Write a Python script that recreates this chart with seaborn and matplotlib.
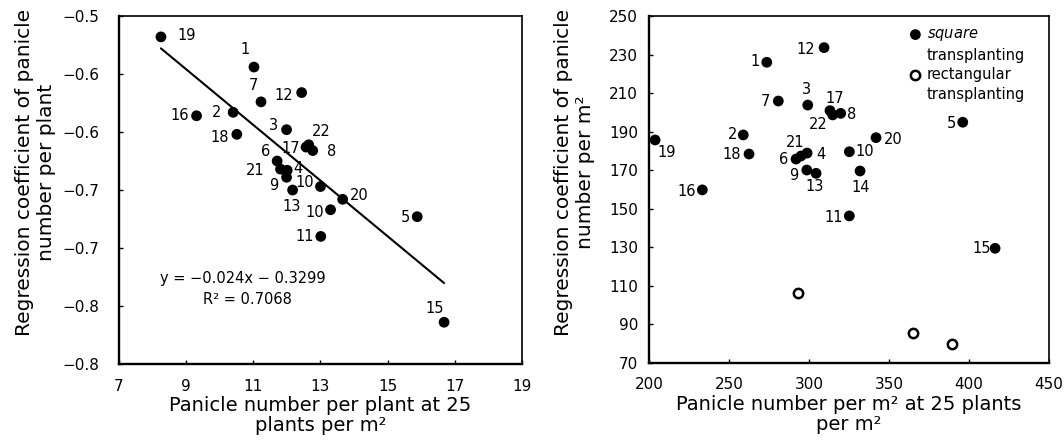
import numpy as np
import pandas as pd
import seaborn as sns
import matplotlib.pyplot as plt

# left panel: panicle number per plant vs regression coefficient
left_ids = ["19", "1", "7", "12", "16", "2", "18", "3", "22", "17", "8",
            "6", "21", "4", "9", "13", "10", "20", "10", "11", "5", "15"]
left_x = [8.25, 11.02, 11.23, 12.44, 9.31, 10.40, 10.51, 11.99, 12.65, 12.57, 12.77,
          11.71, 11.81, 12.01, 11.99, 12.17, 13.00, 13.66, 13.30, 13.01, 15.88, 16.68]
left_y = [-0.518, -0.544, -0.574, -0.566, -0.586, -0.583, -0.602, -0.598, -0.611, -0.613, -0.616,
          -0.625, -0.632, -0.633, -0.639, -0.650, -0.647, -0.658, -0.667, -0.690, -0.673, -0.764]
fit_slope = -0.024
fit_intercept = -0.3299
fit_r2 = 0.7068
left_yticks = [-0.50, -0.55, -0.60, -0.65, -0.70, -0.75, -0.80]
left_yticklabels = ["\u22120.5", "\u22120.6", "\u22120.6", "\u22120.7", "\u22120.7", "\u22120.8", "\u22120.8"]
left_xticks = [7, 9, 11, 13, 15, 17, 19]

# right panel: panicle number per m2
sq_ids = ["12", "1", "7", "3", "17", "22", "8", "2", "19", "18", "6",
          "21", "4", "9", "13", "16", "11", "5", "20", "10", "14", "15"]
sq_x = [309.4, 273.6, 280.8, 299.2, 313.1, 314.8, 319.8, 258.9, 203.8, 262.5, 291.9,
        295.0, 298.8, 298.6, 304.4, 233.3, 325.2, 396.1, 341.9, 325.2, 331.9, 416.3]
sq_y = [233.6, 226.0, 205.9, 203.8, 200.9, 198.7, 199.5, 188.3, 185.7, 178.4, 175.8,
        177.4, 178.9, 170.1, 168.4, 159.8, 146.3, 194.9, 186.9, 179.6, 169.6, 129.5]
rect_x = [292.9, 365.2, 389.6]
rect_y = [106.2, 85.7, 79.9]
right_yticks = [70, 90, 110, 130, 150, 170, 190, 210, 230, 250]
right_xticks = [200, 250, 300, 350, 400, 450]

# label offsets in pixels (dx right, dy down)
left_offsets = [(26, -1), (-9, -18), (-8, -16), (-18, 3), (-17, 0), (-17, 0), (-17, 3),
                (-13, -4), (13, -13), (-15, 1), (19, 1), (-12, -10), (-25, 1), (11, -2),
                (-13, 8), (-1, 16), (-16, -4), (17, -4), (-16, 3), (-16, 0), (-12, 1), (-9, -14)]
right_offsets = [(-18, 2), (-12, -1), (-13, 0), (-1, -16), (5, -12), (-14, 10), (11, 1),
                 (-11, 0), (12, 13), (-17, 0), (-12, 0), (-6, -13), (14, 1), (-13, 5),
                 (-1, 13), (-16, 2), (-16, 2), (-11, 1), (17, 2), (15, 0), (1, 16), (-13, 0)]

left_df = pd.DataFrame({"x": left_x, "y": left_y, "id": left_ids})
sq_df = pd.DataFrame({"x": sq_x, "y": sq_y, "id": sq_ids})
rect_df = pd.DataFrame({"x": rect_x, "y": rect_y})

sns.set_theme(style="white")
plt.rcParams["font.family"] = ["DejaVu Sans"]
plt.rcParams["mathtext.fontset"] = "custom"
plt.rcParams["mathtext.it"] = "DejaVu Sans:italic"
plt.rcParams["mathtext.rm"] = "DejaVu Sans"
plt.rcParams["text.color"] = "black"
plt.rcParams["axes.labelcolor"] = "black"

fig = plt.figure(figsize=(10.64, 4.40), dpi=100)
ax1 = fig.add_axes([0.1118, 0.1727, 0.3788, 0.7909])
ax2 = fig.add_axes([0.6100, 0.1750, 0.3759, 0.7886])

tick_fs = 11
pt_fs = 10.5
lab_fs = 14.5
xlab_fs = 14


def style_axes(ax, ypad, xpad):
    for side, sp in ax.spines.items():
        sp.set_color("black")
        sp.set_linewidth(1.7 if side in ("left", "bottom") else 1.2)
    ax.tick_params(axis="y", direction="in", length=3, width=1, pad=ypad,
                   labelsize=tick_fs, colors="black", left=True)
    ax.tick_params(axis="x", direction="in", length=3, width=1, pad=xpad,
                   labelsize=tick_fs, colors="black", bottom=True)
    ax.grid(False)


def put_labels(ax, df, offsets):
    for (px, py, lab), (dx, dy) in zip(df[["x", "y", "id"]].values, offsets):
        ax.annotate(lab, (px, py), xytext=(dx, -dy), textcoords="offset pixels",
                    ha="center", va="center", fontsize=pt_fs, color="black")


# ---- left panel
sns.scatterplot(data=left_df, x="x", y="y", ax=ax1, color="black", s=60,
                edgecolor="none", legend=False)
fit_x = np.array([min(left_x), max(left_x)])
sns.lineplot(x=fit_x, y=fit_slope * fit_x + fit_intercept, ax=ax1,
             color="black", linewidth=1.5)
put_labels(ax1, left_df, left_offsets)
ax1.text(0.308, 0.247, f"y = \u2212{abs(fit_slope):.3f}x \u2212 {abs(fit_intercept):.4f}",
         transform=ax1.transAxes, ha="center", va="center", fontsize=pt_fs)
ax1.text(0.318, 0.184, f"R\u00b2 = {fit_r2:.4f}", transform=ax1.transAxes,
         ha="center", va="center", fontsize=pt_fs)
ax1.set_xlim(7, 19)
ax1.set_ylim(-0.80, -0.50)
ax1.set_xticks(left_xticks)
ax1.set_yticks(left_yticks)
ax1.set_yticklabels(left_yticklabels)
style_axes(ax1, 14, 11)
ax1.set_xlabel("Panicle number per plant at 25\nplants per m\u00b2", fontsize=xlab_fs,
               linespacing=1.05)
ax1.set_ylabel("Regression coefficient of panicle\nnumber per plant", fontsize=lab_fs,
               linespacing=1.2)
ax1.xaxis.set_label_coords(0.5, -0.093)
ax1.yaxis.set_label_coords(-0.155, 0.55)

# ---- right panel
sns.scatterplot(data=sq_df, x="x", y="y", ax=ax2, color="black", s=60,
                edgecolor="none", label="$\\mathit{square}$")
ax2.scatter([], [], s=0, label="transplanting")
sns.scatterplot(data=rect_df, x="x", y="y", ax=ax2, facecolor="white", s=45,
                edgecolor="black", linewidth=1.8, label="rectangular")
ax2.scatter([], [], s=0, label="transplanting")
put_labels(ax2, sq_df, right_offsets)
ax2.set_xlim(200, 450)
ax2.set_ylim(70, 250)
ax2.set_xticks(right_xticks)
ax2.set_yticks(right_yticks)
style_axes(ax2, 8, 10)
ax2.set_xlabel("Panicle number per m\u00b2 at 25 plants\nper m\u00b2", fontsize=xlab_fs,
               linespacing=1.05)
ax2.set_ylabel("Regression coefficient of panicle\nnumber per m\u00b2", fontsize=lab_fs,
               linespacing=1.2)
ax2.xaxis.set_label_coords(0.5, -0.093)
ax2.yaxis.set_label_coords(-0.135, 0.55)
ax2.legend(loc="upper left", bbox_to_anchor=(0.655, 0.97), frameon=False,
           fontsize=pt_fs, handlelength=0.6, handletextpad=0.5,
           labelspacing=0.3, borderpad=0, borderaxespad=0)

fig.savefig("out.png", dpi=100)
plt.close(fig)
